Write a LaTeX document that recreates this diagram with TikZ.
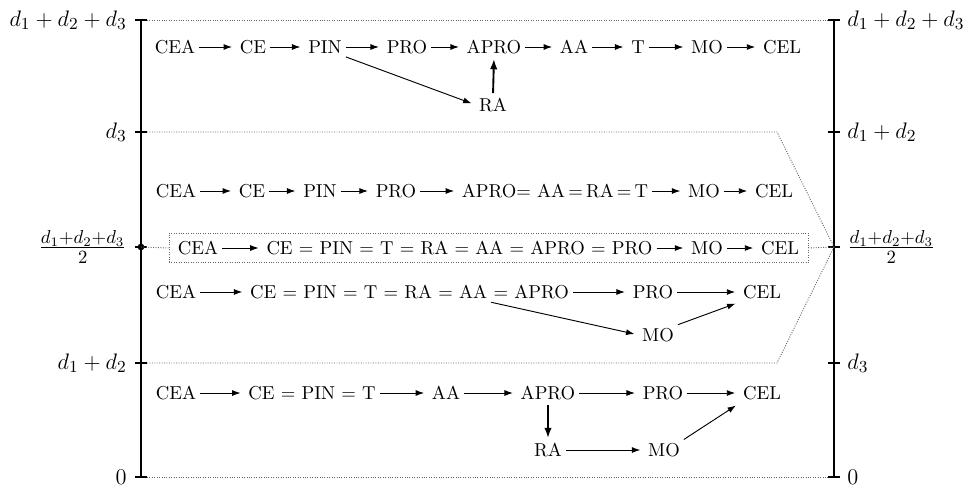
\documentclass[tikz,border=0pt]{standalone}
\usetikzlibrary{arrows.meta}
\begin{document}
\begin{tikzpicture}[x=0.535pt,y=-0.535pt,
  lbl/.style={inner sep=0pt,font=\fontsize{12.4pt}{15pt}\selectfont},
  flbl/.style={inner sep=0pt,font=\fontsize{13.8pt}{16pt}\selectfont},
  nd/.style={inner sep=1.5pt},
  arr/.style={-{Latex[length=4.5pt,width=3.2pt]},line width=0.5pt,shorten >=2.5pt,shorten <=0.5pt},
  tarr/.style={-{Latex[length=5.5pt,width=4pt]},line width=1pt,shorten >=1pt,shorten <=1pt},
  guide/.style={black!60,line width=0.5pt,dash pattern=on 0.5pt off 0.8pt},
  axisline/.style={line width=1.2pt},
  tickline/.style={line width=0.7pt},
  eqbox/.style={draw=black!60,line width=0.5pt,dash pattern=on 0.5pt off 0.8pt,minimum width=341.9pt,minimum height=16pt,inner sep=0pt}]
\useasboundingbox (0,0) rectangle (971,492);
% axes
\coordinate (LT) at (141,20);
\coordinate (LB) at (141,477);
\coordinate (RT) at (834,20);
\coordinate (RB) at (834,477);
\coordinate (LM) at (141,247);
\coordinate (RM) at (834,247);
\draw[axisline] (LT) -- (LB);
\draw[axisline] (RT) -- (RB);
\foreach \yy in {20,132,363,477}{
  \draw[tickline] (135,\yy) -- (147,\yy);
}
\foreach \yy in {20,132,247,363,477}{
  \draw[tickline] (828,\yy) -- (840,\yy);
}
\draw[tickline] (135,247) -- (147,247);
\fill (LM) circle (1.8pt);
% guide lines
\coordinate (g1a) at (147,20);  \coordinate (g1b) at (828,20);
\coordinate (g2a) at (147,132); \coordinate (g2b) at (777,132);
\coordinate (g3a) at (147,363); \coordinate (g3b) at (777,363);
\coordinate (g4a) at (147,477); \coordinate (g4b) at (828,477);
\draw[guide] (g1a) -- (g1b);
\draw[guide] (g2a) -- (g2b) -- (RM);
\draw[guide] (g3a) -- (g3b) -- (RM);
\draw[guide] (g4a) -- (g4b);
% left labels
\node[lbl,anchor=east] (la) at (127,20) {$d_1+d_2+d_3$};
\node[lbl,anchor=east] (lb) at (127,132) {$d_3$};
\node[flbl,anchor=east] (lc) at (127,247) {$\frac{d_1+d_2+d_3}{2}$};
\node[lbl,anchor=east] (ld) at (127,363) {$d_1+d_2$};
\node[lbl,anchor=east] (le) at (127,477) {$0$};
% right labels
\node[lbl,anchor=west] (ra) at (847,20) {$d_1+d_2+d_3$};
\node[lbl,anchor=west] (rb) at (847,132) {$d_1+d_2$};
\node[flbl,anchor=west] (rc) at (847,247) {$\frac{d_1+d_2+d_3}{2}$};
\node[lbl,anchor=west] (rd) at (847,363) {$d_3$};
\node[lbl,anchor=west] (re) at (847,477) {$0$};
% row 1
\node[nd] (r1cea) at (175,47) {CEA};
\node[nd] (r1ce) at (253,47) {CE};
\node[nd] (r1pin) at (325,47) {PIN};
\node[nd] (r1pro) at (407,47) {PRO};
\node[nd] (r1apro) at (494,47) {APRO};
\node[nd] (r1aa) at (574,47) {AA};
\node[nd] (r1t) at (638,47) {T};
\node[nd] (r1mo) at (707,47) {MO};
\node[nd] (r1cel) at (782,47) {CEL};
\node[nd] (r1ra) at (493,105) {RA};
\draw[arr] (r1cea) -- (r1ce);
\draw[arr] (r1ce) -- (r1pin);
\draw[arr] (r1pin) -- (r1pro);
\draw[arr] (r1pro) -- (r1apro);
\draw[arr] (r1apro) -- (r1aa);
\draw[arr] (r1aa) -- (r1t);
\draw[arr] (r1t) -- (r1mo);
\draw[arr] (r1mo) -- (r1cel);
\draw[arr] (r1pin.south east) -- (r1ra.west);
\draw[tarr] (r1ra.north) -- (r1apro.south);
% row 2
\node[nd] (r2cea) at (176,191) {CEA};
\node[nd] (r2ce) at (252,191) {CE};
\node[nd] (r2pin) at (320,191) {PIN};
\node[nd] (r2pro) at (396,191) {PRO};
\node[nd] (r2eq) at (555,191) {APRO$=$ AA\,$=$\,RA\,$=$\,T};
\node[nd] (r2mo) at (704,191) {MO};
\node[nd] (r2cel) at (774,191) {CEL};
\draw[arr] (r2cea) -- (r2ce);
\draw[arr] (r2ce) -- (r2pin);
\draw[arr] (r2pin) -- (r2pro);
\draw[arr] (r2pro) -- (r2eq);
\draw[arr] (r2eq) -- (r2mo);
\draw[arr] (r2mo) -- (r2cel);
% row 3 (boxed)
\node[eqbox] (box) at (488.5,248) {};
\node[nd] (r3cea) at (198,248) {CEA};
\node[nd] (r3eq) at (459.5,248) {CE = PIN = T = RA = AA = APRO = PRO};
\node[nd] (r3mo) at (707,248) {MO};
\node[nd] (r3cel) at (780,248) {CEL};
\draw[guide] (LM) -- (box.west);
\draw[guide] (box.east) -- (RM);
\draw[arr] (r3cea) -- (r3eq);
\draw[arr] (r3eq) -- (r3mo);
\draw[arr] (r3mo) -- (r3cel);
% row 4
\node[nd] (r4cea) at (176,292) {CEA};
\node[nd,anchor=west] (r4a) at (247,292) {CE = PIN = T = RA = AA};
\node[nd,anchor=west] (r4b) at (r4a.east) {= APRO};
\node[nd] (r4pro) at (653,292) {PRO};
\node[nd] (r4cel) at (762,292) {CEL};
\node[nd] (r4mo) at (658,335) {MO};
\draw[arr] (r4cea) -- (r4a);
\draw[arr] (r4b) -- (r4pro);
\draw[arr] (r4pro) -- (r4cel);
\draw[arr] (r4a.south east) -- (r4mo.west);
\draw[arr] (r4mo.north east) -- (r4cel.south west);
% row 5
\node[nd] (r5cea) at (176,393) {CEA};
\node[nd] (r5ce) at (312,393) {CE = PIN = T};
\node[nd] (r5aa) at (446,393) {AA};
\node[nd] (r5apro) at (548,393) {APRO};
\node[nd] (r5pro) at (663,393) {PRO};
\node[nd] (r5cel) at (762,393) {CEL};
\node[nd] (r5ra) at (548,450) {RA};
\node[nd] (r5mo) at (664,450) {MO};
\draw[arr] (r5cea) -- (r5ce);
\draw[arr] (r5ce) -- (r5aa);
\draw[arr] (r5aa) -- (r5apro);
\draw[arr] (r5apro) -- (r5pro);
\draw[arr] (r5pro) -- (r5cel);
\draw[tarr] (r5apro.south) -- (r5ra.north);
\draw[arr] (r5ra) -- (r5mo);
\draw[arr] (r5mo.north east) -- (r5cel.south west);
\end{tikzpicture}
\end{document}
